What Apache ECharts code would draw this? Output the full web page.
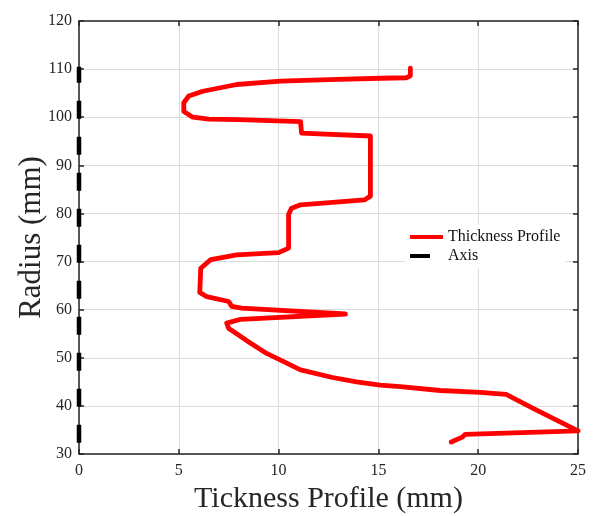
<!DOCTYPE html>
<html>
<head>
<meta charset="utf-8">
<script src="https://cdn.jsdelivr.net/npm/echarts@6/dist/echarts.min.js"></script>
<style>html,body{margin:0;padding:0;background:#fff}#c{width:599px;height:516px}</style>
</head>
<body>
<div id="c"></div>
<script>
var thicknessX = [16.6, 16.6, 16.4, 15.1, 12.5, 10.1, 7.9, 6.2, 5.5, 5.25, 5.25, 5.7, 6.5, 8.0, 11.1, 11.15, 14.6, 14.6, 14.3, 11.1, 10.65, 10.5, 10.5, 10.0, 7.9, 6.6, 6.1, 6.05, 6.4, 7.5, 7.65, 8.15, 13.35, 8.1, 7.4, 7.5, 7.75, 8.6, 9.4, 10.1, 11.1, 12.7, 13.9, 15.1, 16.1, 18.1, 20.1, 21.4, 22.8, 25.0, 19.35, 19.2, 18.65];
var radiusY = [110.2, 108.6, 108.2, 108.1, 107.8, 107.5, 106.8, 105.4, 104.4, 103.0, 101.2, 100.0, 99.6, 99.5, 99.1, 96.7, 96.1, 83.6, 82.8, 81.8, 81.1, 79.8, 72.8, 71.85, 71.4, 70.4, 68.6, 63.6, 62.7, 61.7, 60.7, 60.3, 59.1, 58.0, 57.2, 56.1, 55.4, 53.0, 50.9, 49.5, 47.5, 45.9, 45.0, 44.3, 44.0, 43.2, 42.8, 42.4, 39.4, 34.8, 34.1, 33.5, 32.5];
var axisX = [0, 0];
var axisY = [32.35, 110.5];
var xTicks = {min: 0, max: 25, step: 5};
var yTicks = {min: 30, max: 120, step: 10};

var profile = thicknessX.map(function (x, i) { return [x, radiusY[i]]; });
var axisLine = axisX.map(function (x, i) { return [x, axisY[i]]; });

var FONT = '"Times New Roman", "Liberation Serif", "DejaVu Serif", serif';
var chart = echarts.init(document.getElementById('c'), null, {renderer: 'canvas'});
function axisBase(extra) {
  var a = {
    type: 'value',
    axisLine: {show: true, onZero: false, lineStyle: {color: '#262626', width: 1.5}},
    axisTick: {show: true, inside: true, length: 5, lineStyle: {color: '#262626', width: 1.5}},
    splitLine: {show: false},
    axisLabel: {show: false}
  };
  for (var k in extra) a[k] = extra[k];
  return a;
}
chart.setOption({
  backgroundColor: '#fff',
  animation: false,
  grid: {left: 79, right: 21, top: 21, bottom: 62, containLabel: false, outerBoundsMode: 'none'},
  xAxis: [
    axisBase({position: 'bottom', min: xTicks.min, max: xTicks.max, interval: xTicks.step,
      name: 'Tickness Profile (mm)', nameLocation: 'middle', nameGap: 30,
      nameTextStyle: {fontFamily: FONT, fontSize: 30, color: '#262626'},
      splitLine: {show: true, lineStyle: {color: '#dcdcdc', width: 1}},
      axisLabel: {show: true, fontFamily: FONT, fontSize: 16, color: '#262626', margin: 9}}),
    axisBase({position: 'top', min: xTicks.min, max: xTicks.max, interval: xTicks.step})
  ],
  yAxis: [
    axisBase({position: 'left', min: yTicks.min, max: yTicks.max, interval: yTicks.step,
      name: 'Radius (mm)', nameLocation: 'middle', nameGap: 47, nameRotate: 90, nameMoveOverlap: false,
      nameTextStyle: {fontFamily: FONT, fontSize: 31, color: '#262626', align: 'center', verticalAlign: 'middle'},
      splitLine: {show: true, lineStyle: {color: '#dcdcdc', width: 1}},
      axisLabel: {show: true, fontFamily: FONT, fontSize: 16, color: '#262626', margin: 7}}),
    axisBase({position: 'right', min: yTicks.min, max: yTicks.max, interval: yTicks.step})
  ],
  legend: {
    orient: 'vertical', left: 405, top: 225,
    padding: [4, 5, 4, 5], itemGap: 3,
    itemWidth: 33, itemHeight: 4,
    backgroundColor: '#fff',
    textStyle: {fontFamily: FONT, fontSize: 16, color: '#111', lineHeight: 16},
    data: [
      {name: 'Thickness Profile', icon: 'rect'},
      {name: 'Axis', icon: 'path://M0,0H20V4H0Z M33,0L33,4'}
    ]
  },
  series: [
    {
      name: 'Thickness Profile', type: 'line', data: profile,
      xAxisIndex: 0, yAxisIndex: 0,
      symbol: 'none', showSymbol: false,
      lineStyle: {color: '#ff0000', width: 4.8, join: 'round', cap: 'round'},
      itemStyle: {color: '#ff0000'}, z: 3
    },
    {
      name: 'Axis', type: 'line', data: axisLine,
      xAxisIndex: 0, yAxisIndex: 0,
      symbol: 'none', showSymbol: false,
      lineStyle: {color: '#000', width: 4.5, type: [18, 18]},
      itemStyle: {color: '#000'}, z: 4
    }
  ]
});
</script>
</body>
</html>
